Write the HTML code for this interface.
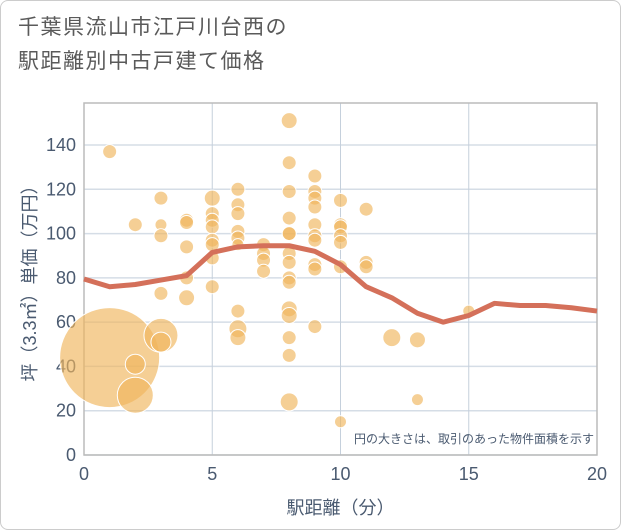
<!DOCTYPE html>
<html><head><meta charset="utf-8"><style>
body{margin:0;background:#fff;font-family:"Liberation Sans","Noto Sans CJK JP",sans-serif}
#wrap{position:relative;width:619px;height:528px;border:1px solid #ccc;border-radius:8px;overflow:hidden}
#title{position:absolute;left:17px;top:10px;font-size:21px;line-height:34px;color:#5a5a5a;letter-spacing:1.5px}
</style></head><body>
<div id="wrap">
<div id="title">千葉県流山市江戸川台西の<br>駅距離別中古戸建て価格</div>
<svg id="c" width="621" height="530" style="position:absolute;left:-1px;top:-1px"></svg>
</div>
<script>
const xTicks=[0,5,10,15,20];
const yTicks=[0,20,40,60,80,100,120,140];
const bx=[1,1,2,2,2,3,3,3,3,3,3,4,4,4,4,4,5,5,5,5,5,5,5,5,6,6,6,6,6,6,6,6,6,7,7,7,7,8,8,8,8,8,8,8,8,8,8,8,8,8,8,8,9,9,9,9,9,9,9,9,9,9,10,10,10,10,10,10,10,11,11,11,12,13,13,15];
const by=[137,44,104,41,27,116,104,99,73,54,51,106,105,94,80,71,116,109,106,103,97,95,89,76,120,113,109,101,98,95,65,57,53,95,91,88,83,151,132,119,107,100,100,91,87,80,78,66,63,53,45,24,126,119,116,112,104,99,97,86,84,58,115,104,103,99,96,85,15,111,87,85,53,52,25,65];
const bs=[7,50,7,10,18,7,6,7,7,17,10,7,7,7,7,8,8,7,7,7,7,7,7,7,7,7,7,7,7,6,7,9,8,7,7,7,7,8,7,7,7,7,7,7,7,7,7,8,8,7,7,9,7,7,7,7,7,7,7,7,7,7,7,7,7,7,7,7,6,7,7,7,9,8,6,6];
const lx=[0,1,2,3,4,5,6,7,8,9,10,11,12,13,14,15,16,17,18,19,20];
const ly=[79.5,76,77,79,81,91.5,94,94.5,94.5,92,86,76,71,64,60,63,68.5,67.5,67.5,66.5,65];
const L=84,R=597,T=103,B=455;
const X=v=>L+v/20*(R-L);
const Y=v=>B-v*(B-145)/140;
const svg=document.getElementById('c');
const NS='http://www.w3.org/2000/svg';
function mk(t,a,p){const e=document.createElementNS(NS,t);for(const k in a)e.setAttribute(k,a[k]);(p||svg).appendChild(e);return e;}
yTicks.forEach(v=>{const l=mk('line',{x1:L,x2:R,y1:Y(v),y2:Y(v),stroke:'#d5dde6','stroke-width':1.5});


const t=mk('text',{x:L-8,y:Y(v)+6,'text-anchor':'end','font-size':18,fill:'#4a5a70'});t.textContent=v;

});
xTicks.forEach(v=>{const l=mk('line',{x1:X(v),x2:X(v),y1:T,y2:B,stroke:'#c5d0dc','stroke-width':1});


const t=mk('text',{x:X(v),y:B+25,'text-anchor':'middle','font-size':18,fill:'#4a5a70'});t.textContent=v;

});
const fr=mk('rect',{x:L,y:T,width:R-L,height:B-T,fill:'none',stroke:'#bbb','stroke-width':1.5});


bx.forEach((v,i)=>{const c=mk('circle',{cx:X(v),cy:Y(by[i]),r:bs[i],fill:'#f0b65c','fill-opacity':0.65,stroke:'#fff','stroke-width':1});

});
const p=mk('polyline',{points:lx.map((v,i)=>X(v)+','+Y(ly[i])).join(' '),fill:'none',stroke:'#d4705a','stroke-width':5,'stroke-linejoin':'round'});


const n=mk('text',{x:594,y:443,'text-anchor':'end','font-size':12,fill:'#4a5a70'});n.textContent='円の大きさは、取引のあった物件面積を示す';


const xt=mk('text',{x:X(10),y:514,'text-anchor':'middle','font-size':18,fill:'#4a5a70'});xt.textContent='駅距離（分）';


const yt=mk('text',{x:0,y:0,'text-anchor':'middle','font-size':18,fill:'#4a5a70',transform:'translate(36,'+((T+B)/2)+') rotate(-90)'});yt.textContent='坪（3.3㎡）単価（万円）';


</script>
</body></html>
